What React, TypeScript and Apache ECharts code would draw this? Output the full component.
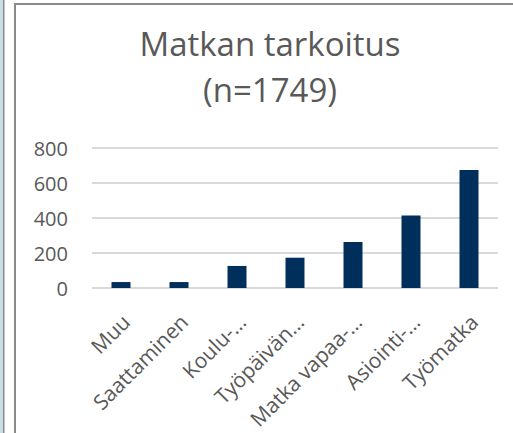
import React, { useEffect, useRef } from "react";
import * as echarts from "echarts";

const categories = ["Muu", "Saattaminen", "Koulu-…", "Työpäivän…", "Matka vapaa-…", "Asiointi-…", "Työmatka"];
const values = [34, 34, 126, 173, 263, 415, 674];
const titleLine1 = "Matkan tarkoitus";
const titleLine2 = "(n=1749)";

export default function App() {
  const ref = useRef<HTMLDivElement>(null);
  useEffect(() => {
    const chart = echarts.init(ref.current!, undefined, { renderer: "svg" });
    const font = "Open Sans";
    const grey = "#595959";
    chart.setOption({
      animation: false,
      backgroundColor: "#ffffff",
      graphic: [
        { type: "rect", shape: { x: 0, y: 0, width: 3, height: 433 }, style: { fill: "#c9dfe2" } },
        { type: "rect", shape: { x: 3, y: 0, width: 1.5, height: 433 }, style: { fill: "#8a8a8a" } },
        { type: "rect", shape: { x: 14, y: 3, width: 2, height: 430 }, style: { fill: "#8a8a8a" } },
        { type: "rect", shape: { x: 14, y: 3, width: 499, height: 2 }, style: { fill: "#8a8a8a" } },
        {
          type: "text",
          x: 270,
          y: 43,
          style: { text: titleLine1, font: `33px '${font}'`, fill: grey, textAlign: "center", textVerticalAlign: "middle" },
        },
        {
          type: "text",
          x: 270,
          y: 89,
          style: { text: titleLine2, font: `33px '${font}'`, fill: grey, textAlign: "center", textVerticalAlign: "middle" },
        },
      ],
      grid: [
        { left: 92, right: 15, top: 148, bottom: 145 },
        { left: 97, right: 10, top: 148, bottom: 145 },
      ],
      xAxis: [
        {
          type: "category",
          data: categories,
          gridIndex: 0,
          axisLine: { show: false },
          axisTick: { show: false },
          axisLabel: { show: false },
        },
        {
          type: "category",
          data: categories,
          gridIndex: 1,
          axisLine: { show: false },
          axisTick: { show: false },
          axisLabel: {
            rotate: 45,
            interval: 0,
            fontFamily: font,
            fontSize: 21,
            color: grey,
            margin: 30,
          },
        },
      ],
      yAxis: [
        {
          type: "value",
          gridIndex: 0,
          min: 0,
          max: 800,
          interval: 200,
          axisLine: { show: false },
          axisTick: { show: false },
          axisLabel: {
            fontFamily: font,
            fontSize: 20,
            color: grey,
            margin: 24,
          },
          splitLine: { lineStyle: { color: "#d9d9d9", width: 2 } },
        },
        {
          type: "value",
          gridIndex: 1,
          min: 0,
          max: 800,
          interval: 200,
          show: false,
        },
      ],
      series: [
        {
          type: "bar",
          xAxisIndex: 0,
          yAxisIndex: 0,
          data: values,
          barWidth: 19,
          itemStyle: { color: "#002f5c" },
        },
      ],
    });
    return () => chart.dispose();
  }, []);
  return (
    <div
      ref={ref}
      style={{ position: "fixed", left: 0, top: 0, width: 513, height: 433 }}
    />
  );
}
